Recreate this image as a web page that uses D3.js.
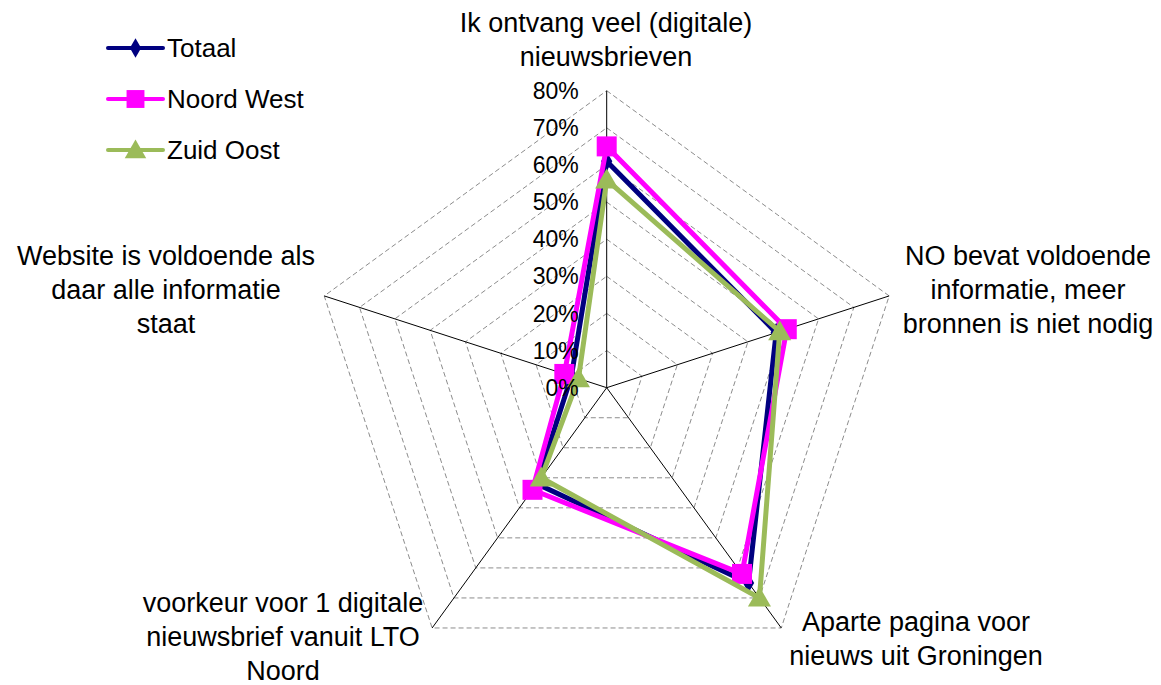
<!DOCTYPE html>
<html>
<head>
<meta charset="utf-8">
<script src="https://cdn.jsdelivr.net/npm/d3@7"></script>
<style>
  body { margin: 0; background: #fff; }
  svg text { font-family: "Liberation Sans", Arial, sans-serif; fill: #000; }
</style>
</head>
<body>
<svg id="chart"></svg>
<script>
const width = 1161,
    height = 685;
const cx = 606.7,
    cy = 387.7;
const outerRadius = 297;

// categories, one per spoke (clockwise from top), split into lines
const categories = [
    ["Ik ontvang veel (digitale)", "nieuwsbrieven"],
    ["NO bevat voldoende", "informatie, meer", "bronnen is niet nodig"],
    ["Aparte pagina voor", "nieuws uit Groningen"],
    ["voorkeur voor 1 digitale", "nieuwsbrief vanuit LTO", "Noord"],
    ["Website is voldoende als", "daar alle informatie", "staat"],
];
const tickValues = [0, 0.1, 0.2, 0.3, 0.4, 0.5, 0.6, 0.7, 0.8];

const seriesNames = ["Totaal", "Noord West", "Zuid Oost"];
const totaal = [0.61, 0.48, 0.65, 0.32, 0.10];
const noordWest = [0.65, 0.51, 0.62, 0.34, 0.12];
const zuidOost = [0.56, 0.49, 0.70, 0.30, 0.08];

const seriesColors = ["#000080", "#ff00ff", "#9bbb59"];
const seriesSymbols = [d3.symbolDiamond, d3.symbolSquare, d3.symbolTriangle];
const seriesData = [totaal, noordWest, zuidOost];

// label anchor points (center x, first baseline) per category
const labelPos = [
    { x: 606, y: 32 },
    { x: 1028, y: 265 },
    { x: 916, y: 631 },
    { x: 283, y: 612 },
    { x: 166, y: 265 },
];
const lineGap = 34;

const svg = d3.select("svg#chart")
    .attr("width", width)
    .attr("height", height);

const r = d3.scaleLinear().domain([0, 0.8]).range([0, outerRadius]);
const angle = d3.scaleLinear()
    .domain([0, categories.length])
    .range([0, Math.PI * 2]);

const px = (i, v) => cx + r(v) * Math.sin(angle(i));
const py = (i, v) => cy - r(v) * Math.cos(angle(i));

// grid rings
const grid = svg.append("g");
grid.selectAll("path.ring")
    .data(tickValues.slice(1))
    .enter()
    .append("path")
    .attr("class", "ring")
    .attr("d", v => "M" + categories.map((c, i) => [px(i, v), py(i, v)].join(",")).join("L") + "Z")
    .attr("fill", "none")
    .attr("stroke", "#8c8c8c")
    .attr("stroke-width", 1)
    .attr("stroke-dasharray", "5,3");

// spokes
grid.selectAll("line.spoke")
    .data(categories)
    .enter()
    .append("line")
    .attr("class", "spoke")
    .attr("x1", cx)
    .attr("y1", cy)
    .attr("x2", (d, i) => px(i, 0.8))
    .attr("y2", (d, i) => py(i, 0.8))
    .attr("stroke", "#000")
    .attr("stroke-width", 1);

// series
const line = d3.line()
    .x((d, i) => px(i, d))
    .y((d, i) => py(i, d))
    .curve(d3.curveLinearClosed);

const series = svg.selectAll("g.series")
    .data(seriesData)
    .enter()
    .append("g")
    .attr("class", "series");
series.append("path")
    .attr("d", d => line(d))
    .attr("fill", "none")
    .attr("stroke", (d, i) => seriesColors[i])
    .attr("stroke-width", 5)
    .attr("stroke-linejoin", "miter");
series.each(function (d, si) {
    const sizes = [110, 400, 230];
    d3.select(this).selectAll("path.marker")
        .data(d)
        .enter()
        .append("path")
        .attr("class", "marker")
        .attr("d", d3.symbol().type(seriesSymbols[si]).size(sizes[si]))
        .attr("transform", (v, i) => `translate(${px(i, v)},${py(i, v) + (si == 2 ? 2 : 0)})`)
        .attr("fill", seriesColors[si]);
});

// tick labels on the top spoke
svg.append("g")
    .selectAll("text")
    .data(tickValues)
    .enter()
    .append("text")
    .attr("x", cx - 28)
    .attr("y", v => cy - r(v))
    .attr("dy", "0.35em")
    .attr("text-anchor", "end")
    .style("font-size", "23px")
    .text(d3.format(".0%"));

// category labels
const labels = svg.append("g")
    .selectAll("text")
    .data(categories)
    .enter()
    .append("text")
    .attr("text-anchor", "middle")
    .style("font-size", "27px");
labels.each(function (lines, i) {
    d3.select(this).selectAll("tspan")
        .data(lines)
        .enter()
        .append("tspan")
        .attr("x", labelPos[i].x)
        .attr("y", (t, j) => labelPos[i].y + j * lineGap)
        .text(t => t);
});

// legend
const legend = svg.append("g")
    .selectAll("g")
    .data(seriesNames)
    .enter()
    .append("g")
    .attr("transform", (d, i) => `translate(0,${48 + i * 51})`);
legend.append("line")
    .attr("x1", 108)
    .attr("x2", 163)
    .attr("stroke", (d, i) => seriesColors[i])
    .attr("stroke-width", 4)
    .attr("stroke-linecap", "round");
legend.append("path")
    .attr("d", (d, i) => d3.symbol().type(seriesSymbols[i]).size([110, 320, 200][i])())
    .attr("transform", (d, i) => `translate(135.5,${i == 2 ? 2 : 0})`)
    .attr("fill", (d, i) => seriesColors[i]);
legend.append("text")
    .attr("x", 167)
    .attr("dy", "0.35em")
    .style("font-size", "26px")
    .text(d => d);
</script>
</body>
</html>
